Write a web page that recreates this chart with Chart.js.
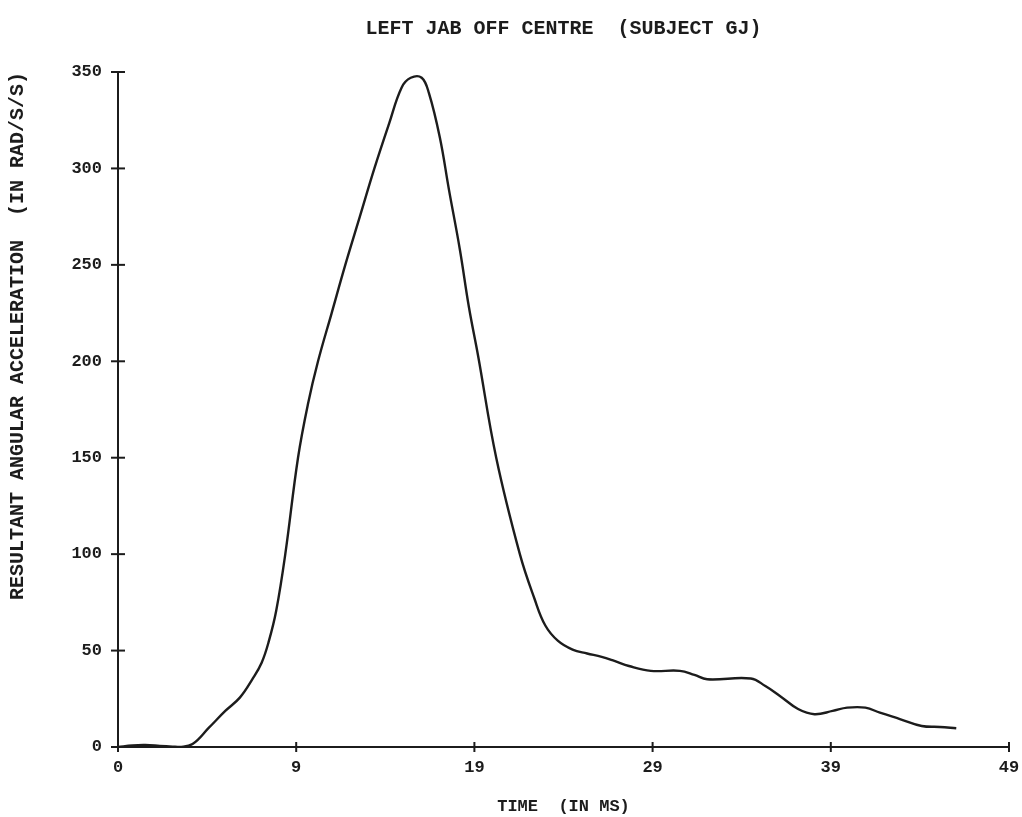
<!DOCTYPE html>
<html>
<head>
<meta charset="utf-8">
<script src="https://cdn.jsdelivr.net/npm/chart.js@4.4.1/dist/chart.umd.min.js"></script>
<style>
  html, body { margin: 0; padding: 0; background: #ffffff; }
  #wrap { width: 1022px; height: 817px; position: relative; }
</style>
</head>
<body>
<div id="wrap"><canvas id="c" width="1022" height="817"></canvas></div>
<script>
// Resultant angular acceleration trace, left jab off centre (subject GJ)
const timeMs = [
  0, 0.8, 1.5, 2.3, 3.0, 3.4, 4.1, 5.0, 5.9, 6.7, 7.4, 7.9, 8.3, 8.7, 9.2, 9.9, 10.45,
  11.0, 11.75, 12.5, 13.3, 14.1, 14.9, 15.6, 16.1, 16.7, 17.1, 17.7, 18.2, 18.8, 19.3,
  19.8, 20.8, 22.1, 22.9, 23.5, 24.2, 25.0, 25.8, 26.6, 27.3, 28.1, 29.3, 30.9, 31.7, 32.4,
  34.8, 35.6, 36.4, 37.4, 38.3, 39.3, 40.1, 41.1, 41.9, 43.0, 44.2, 45.2, 46.1
];
const accel = [
  0, 0.8, 1, 0.6, 0.2, 0, 1.5, 10, 18.7, 25.6, 35.3, 43.7, 55, 70.6, 100, 150, 178,
  200, 225, 250, 275, 300, 323, 342, 347, 347, 339, 316, 289, 258, 228,
  203, 150, 100, 77, 63, 55, 50.5, 48.5, 46.7, 44.6, 42, 39.5, 39.5, 37.4, 35.1,
  35.5, 31.6, 26.5, 19.7, 17, 18.7, 20.4, 20.4, 17.8, 14.5, 10.9, 10.4, 9.7
];
const xTickValues = [0, 9.8, 19.6, 29.4, 39.2, 49];
const xTickLabels = ['0', '9', '19', '29', '39', '49'];
const yTickValues = [0, 50, 100, 150, 200, 250, 300, 350];

const INK = '#1c1c1c';
const FONT = "'Liberation Mono', 'DejaVu Sans Mono', monospace";

// Plotter-style tick marks that cross the axis line
const crossTicks = {
  id: 'crossTicks',
  afterDraw(chart) {
    const ctx = chart.ctx;
    const xs = chart.scales.x, ys = chart.scales.y;
    const axisX = chart.chartArea.left, axisY = chart.chartArea.bottom;
    ctx.save();
    ctx.strokeStyle = INK;
    ctx.lineWidth = 2;
    ys.ticks.forEach((t, i) => {
      const py = ys.getPixelForTick(i);
      ctx.beginPath();
      ctx.moveTo(axisX - 7, py);
      ctx.lineTo(axisX + 7, py);
      ctx.stroke();
    });
    xs.ticks.forEach((t, i) => {
      const px = xs.getPixelForTick(i);
      ctx.beginPath();
      ctx.moveTo(px, axisY - 5);
      ctx.lineTo(px, axisY + 5);
      ctx.stroke();
    });
    ctx.restore();
  }
};

new Chart(document.getElementById('c'), {
  type: 'line',
  data: {
    datasets: [{
      data: timeMs.map((t, i) => ({ x: t, y: accel[i] })),
      borderColor: INK,
      borderWidth: 2.4,
      pointRadius: 0,
      fill: false,
      tension: 0.4
    }]
  },
  options: {
    responsive: false,
    animation: false,
    layout: { padding: { left: 0, right: 13, top: 0, bottom: 0 } },
    plugins: {
      legend: { display: false },
      tooltip: { enabled: false },
      title: {
        display: true,
        fullSize: false,
        text: 'LEFT JAB OFF CENTRE  (SUBJECT GJ)',
        color: INK,
        font: { family: FONT, size: 20, weight: 'bold' },
        padding: { top: 17, bottom: 31 }
      }
    },
    scales: {
      x: {
        type: 'linear',
        min: 0,
        max: 49,
        afterBuildTicks(scale) {
          scale.ticks = xTickValues.map(v => ({ value: v }));
        },
        afterFit(scale) {
          scale.height = 70;
          scale.paddingRight = 0;
          scale.paddingLeft = 0;
        },
        grid: { display: false, drawTicks: false },
        border: { display: true, color: INK, width: 2 },
        ticks: {
          color: INK,
          padding: 11,
          font: { family: FONT, size: 17, weight: 'bold' },
          callback(value, index) { return xTickLabels[index]; }
        },
        title: {
          display: true,
          text: 'TIME  (IN MS)',
          color: INK,
          font: { family: FONT, size: 17, weight: 'bold' },
          padding: { top: 10, bottom: 0 }
        }
      },
      y: {
        type: 'linear',
        min: 0,
        max: 350,
        afterBuildTicks(scale) {
          scale.ticks = yTickValues.map(v => ({ value: v }));
        },
        afterFit(scale) { scale.width = 118; },
        grid: { display: false, drawTicks: false },
        border: { display: true, color: INK, width: 2 },
        ticks: {
          color: INK,
          padding: 16,
          font: { family: FONT, size: 17, weight: 'bold' }
        },
        title: {
          display: true,
          align: 'end',
          text: 'RESULTANT ANGULAR ACCELERATION  (IN RAD/S/S)',
          color: INK,
          font: { family: FONT, size: 20, weight: 'bold' },
          padding: { top: 6, bottom: 0 }
        }
      }
    }
  },
  plugins: [crossTicks]
});
</script>
</body>
</html>
